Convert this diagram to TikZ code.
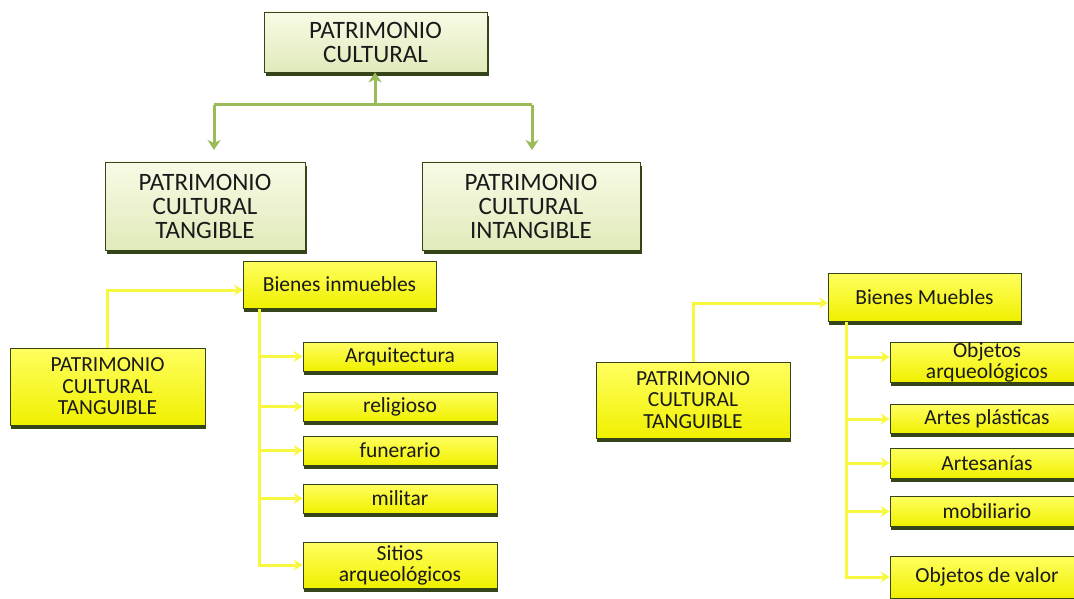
\documentclass[tikz,border=0pt]{standalone}
\usepackage{fontspec}
\setmainfont{Carlito}
\usetikzlibrary{arrows.meta,shadows}
\definecolor{gline}{HTML}{9BBB59}
\definecolor{yline}{HTML}{F8F840}
\definecolor{shad}{HTML}{36441A}
\definecolor{paletop}{HTML}{F8FBE6}
\definecolor{palebot}{HTML}{E0EABA}
\definecolor{ytop}{HTML}{FFFF60}
\definecolor{ybot}{HTML}{F0F000}
\definecolor{txt}{HTML}{1A1A1A}
\tikzset{
  bigbox/.style={draw=shad, line width=0.7pt, top color=paletop, bottom color=palebot,
    general shadow={fill=shad, shadow xshift=1.5pt, shadow yshift=-4pt},
    align=center, inner sep=0pt, text=txt, font=\fontsize{25}{24}\selectfont},
  ybox/.style={draw=shad, line width=0.6pt, top color=ytop, bottom color=ybot,
    general shadow={fill=shad, shadow xshift=1.2pt, shadow yshift=-3.5pt},
    align=center, inner sep=0pt, text=txt, font=\fontsize{21.5}{21}\selectfont},
  ybig/.style={ybox, font=\fontsize{21.5}{21.5}\selectfont},
  gconn/.style={draw=gline, line width=3pt},
  garrow/.style={gconn, -{Stealth[length=10pt,width=13pt,inset=3pt]}},
  yconn/.style={draw=yline, line width=3pt},
  yarrow/.style={yconn, -{Stealth[length=9pt,width=11pt,inset=3pt]}},
}
\begin{document}
\begin{tikzpicture}[x=1pt,y=-1pt]
\useasboundingbox (0,0) rectangle (1074,599);
\clip (0,0) rectangle (1074,599);
% top level
\node[bigbox, minimum width=223pt, minimum height=60pt] (pc) at (375.5,42) {PATRIMONIO\\CULTURAL};
\node[bigbox, minimum width=200pt, minimum height=88pt] (tang) at (205,206) {PATRIMONIO\\CULTURAL\\TANGIBLE};
\node[bigbox, minimum width=218pt, minimum height=88pt] (intang) at (531,206) {PATRIMONIO\\CULTURAL\\INTANGIBLE};
\coordinate (j0) at (375,105);
\coordinate (jl) at (214,105);
\coordinate (jr) at (532,105);
\coordinate (tl) at (214,150);
\coordinate (tr) at (532,150);
\draw[gconn] (jl) -- (jr);
\draw[garrow] (j0) -- (pc.south -| j0);
\draw[garrow] (jl) -- (tl);
\draw[garrow] (jr) -- (tr);
% left group
\node[ybox, minimum width=193pt, minimum height=47pt] (bi) at (339.5,284.5) {Bienes inmuebles};
\node[ybig, minimum width=195pt, minimum height=77pt] (ltan) at (107.5,386.5) {PATRIMONIO\\CULTURAL\\TANGUIBLE};
\node[ybox, minimum width=194pt, minimum height=29pt] (l1) at (400,356.5) {Arquitectura};
\node[ybox, minimum width=194pt, minimum height=29pt] (l2) at (400,406.5) {religioso};
\node[ybox, minimum width=194pt, minimum height=29pt] (l3) at (400,450.5) {funerario};
\node[ybox, minimum width=194pt, minimum height=29pt] (l4) at (400,498.5) {militar};
\node[ybox, minimum width=194pt, minimum height=46pt] (l5) at (400,565) {Sitios\\arqueológicos};
\coordinate (lin) at (243,290);
\draw[yarrow] (ltan.north) |- (lin);
\coordinate (ltr) at (259,309);
\foreach \c in {l1,l2,l3,l4,l5} {\draw[yarrow] (ltr) |- (\c.west);}
% right group
\node[ybox, minimum width=193pt, minimum height=48pt] (bm) at (924.5,297) {Bienes Muebles};
\node[ybig, minimum width=194pt, minimum height=76pt] (rtan) at (693,400) {PATRIMONIO\\CULTURAL\\TANGUIBLE};
\node[ybox, minimum width=194pt, minimum height=40pt] (r1) at (987,362) {Objetos\\arqueológicos};
\node[ybox, minimum width=194pt, minimum height=29pt] (r2) at (987,419) {Artes plásticas};
\node[ybox, minimum width=194pt, minimum height=30pt] (r3) at (987,463) {Artesanías};
\node[ybox, minimum width=194pt, minimum height=30pt] (r4) at (987,511.5) {mobiliario};
\node[ybox, minimum width=194pt, minimum height=42pt] (r5) at (987,577) {Objetos de valor};
\coordinate (rin) at (828,303);
\draw[yarrow] (rtan.north) |- (rin);
\coordinate (rtr) at (846,322);
\draw[yarrow] (rtr) |- ([yshift=5pt]r1.west);
\foreach \c in {r2,r3,r4} {\draw[yarrow] (rtr) |- (\c.west);}
\draw[yarrow] (rtr) |- (r5.west);
\end{tikzpicture}
\end{document}
